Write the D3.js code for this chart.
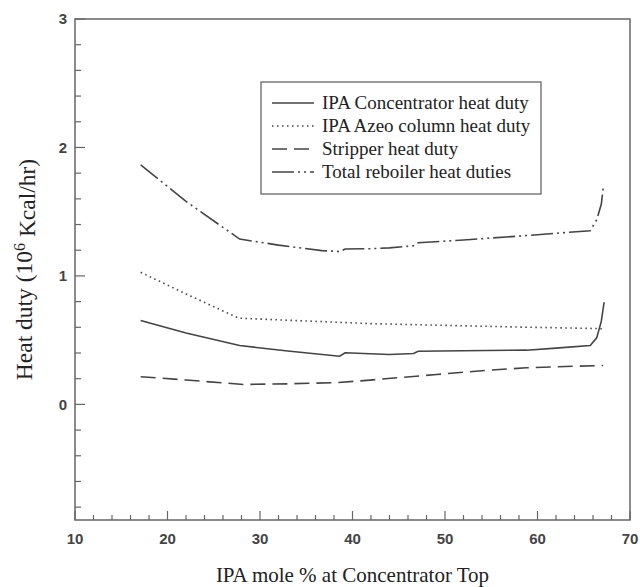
<!DOCTYPE html>
<html>
<head>
<meta charset="utf-8">
<script src="https://cdn.jsdelivr.net/npm/d3@7"></script>
<style>
  body { margin: 0; background: #fff; }
  svg { display: block; }
</style>
</head>
<body>
<svg id="chart"></svg>
<script>
// IPA mole % at concentrator top vs heat duty (10^6 Kcal/hr)
const concX = [17.1, 22.0, 27.8, 33.0, 38.6, 39.2, 41.9, 44.0, 46.6, 47.1, 52.0, 58.8, 62.0, 65.7, 66.4, 66.9, 67.2];
const concY = [0.653, 0.555, 0.458, 0.415, 0.375, 0.402, 0.394, 0.388, 0.396, 0.414, 0.418, 0.422, 0.438, 0.458, 0.518, 0.648, 0.795];

const azeoX = [17.1, 22.0, 27.7, 34.0, 41.9, 50.0, 58.0, 66.8, 67.1];
const azeoY = [1.028, 0.86, 0.671, 0.652, 0.629, 0.615, 0.602, 0.59, 0.585];

const stripX = [17.1, 22.0, 28.2, 33.0, 38.3, 41.9, 45.0, 49.1, 54.0, 58.8, 63.0, 67.1];
const stripY = [0.215, 0.19, 0.155, 0.16, 0.169, 0.189, 0.208, 0.233, 0.262, 0.285, 0.295, 0.303];

const totalX = [17.1, 22.0, 27.8, 32.0, 36.7, 38.7, 39.2, 41.9, 44.0, 46.6, 47.1, 52.0, 58.0, 65.7, 66.4, 66.9, 67.1];
const totalY = [1.865, 1.58, 1.287, 1.24, 1.197, 1.19, 1.21, 1.212, 1.218, 1.235, 1.258, 1.28, 1.31, 1.352, 1.437, 1.56, 1.684];

const seriesNames = ["IPA Concentrator heat duty", "IPA Azeo column heat duty", "Stripper heat duty", "Total reboiler heat duties"];
const xTicks = [10, 20, 30, 40, 50, 60, 70];
const yTicks = [0, 1, 2, 3];

const width = 640, height = 587;
const margin = { top: 19, right: 10, bottom: 67, left: 75 };
const innerW = width - margin.left - margin.right;
const innerH = height - margin.top - margin.bottom;

const ink = "#444";
const axisInk = "#666";

const svg = d3.select("#chart")
  .attr("width", width)
  .attr("height", height);

const g = svg.append("g")
  .attr("transform", `translate(${margin.left},${margin.top})`);

const x = d3.scaleLinear().domain([10, 70]).range([0, innerW]);
const y = d3.scaleLinear().domain([-0.9, 3]).range([innerH, 0]);

// frame
g.append("rect")
  .attr("width", innerW)
  .attr("height", innerH)
  .attr("fill", "none")
  .attr("stroke", axisInk)
  .attr("stroke-width", 1.5);

// minor ticks (inward)
const xMinor = d3.range(12, 70, 2).filter(v => v % 10 !== 0);
const yMinor = d3.range(-0.8, 3, 0.2).filter(v => Math.abs(v - Math.round(v)) > 0.01);

g.selectAll(".xminor")
  .data(xMinor)
  .enter()
  .append("line")
  .attr("x1", d => x(d)).attr("x2", d => x(d))
  .attr("y1", innerH).attr("y2", innerH - 5)
  .attr("stroke", axisInk).attr("stroke-width", 1.2);

g.selectAll(".xmajor")
  .data(xTicks)
  .enter()
  .append("line")
  .attr("x1", d => x(d)).attr("x2", d => x(d))
  .attr("y1", innerH).attr("y2", innerH - 9)
  .attr("stroke", axisInk).attr("stroke-width", 1.2);

g.selectAll(".yminor")
  .data(yMinor)
  .enter()
  .append("line")
  .attr("y1", d => y(d)).attr("y2", d => y(d))
  .attr("x1", 0).attr("x2", 6)
  .attr("stroke", axisInk).attr("stroke-width", 1.2);

g.selectAll(".ymajor")
  .data(yTicks)
  .enter()
  .append("line")
  .attr("y1", d => y(d)).attr("y2", d => y(d))
  .attr("x1", 0).attr("x2", 10)
  .attr("stroke", axisInk).attr("stroke-width", 1.2);

// tick labels
g.selectAll(".xlabel")
  .data(xTicks)
  .enter()
  .append("text")
  .attr("x", d => x(d))
  .attr("y", innerH + 24)
  .attr("text-anchor", "middle")
  .style("font-family", "'Liberation Sans', Arial, sans-serif")
  .style("font-size", "15px")
  .style("font-weight", "bold")
  .style("fill", "#444")
  .text(d => d);

g.selectAll(".ylabel")
  .data(yTicks)
  .enter()
  .append("text")
  .attr("x", -8)
  .attr("y", d => y(d))
  .attr("dy", "0.35em")
  .attr("text-anchor", "end")
  .style("font-family", "'Liberation Sans', Arial, sans-serif")
  .style("font-size", "15px")
  .style("font-weight", "bold")
  .style("fill", "#444")
  .text(d => d);

// axis titles
svg.append("text")
  .attr("x", margin.left + innerW / 2)
  .attr("y", 582)
  .attr("text-anchor", "middle")
  .style("font-family", "'Liberation Serif', 'Times New Roman', serif")
  .style("font-size", "21px")
  .style("fill", "#222")
  .text("IPA mole % at Concentrator Top");

const yTitle = svg.append("text")
  .attr("transform", `translate(32,${margin.top + innerH / 2}) rotate(-90)`)
  .attr("text-anchor", "middle")
  .style("font-family", "'Liberation Serif', 'Times New Roman', serif")
  .style("font-size", "23.5px")
  .style("fill", "#222");
yTitle.append("tspan").text("Heat duty (10");
yTitle.append("tspan").attr("dy", "-0.45em").style("font-size", "16px").text("6");
yTitle.append("tspan").attr("dy", "0.45em").text(" Kcal/hr)");

// series
const series = [
  { xs: concX, ys: concY, dash: null },
  { xs: azeoX, ys: azeoY, dash: "1.5,3.5" },
  { xs: stripX, ys: stripY, dash: "15,7" },
  { xs: totalX, ys: totalY, dash: "22,4,2,4,2,4" }
];

const line = d3.line()
  .x(d => x(d[0]))
  .y(d => y(d[1]));

series.forEach(s => {
  const pts = s.xs.map((v, i) => [v, s.ys[i]]);
  g.append("path")
    .datum(pts)
    .attr("d", line)
    .attr("fill", "none")
    .attr("stroke", ink)
    .attr("stroke-width", 1.6)
    .attr("stroke-dasharray", s.dash);
});

// legend
const legend = svg.append("g")
  .attr("transform", "translate(261,82)");

legend.append("rect")
  .attr("width", 280)
  .attr("height", 112)
  .attr("fill", "#fff")
  .attr("stroke", axisInk)
  .attr("stroke-width", 1.3);

seriesNames.forEach((name, i) => {
  const row = legend.append("g")
    .attr("transform", `translate(0,${21 + i * 23})`);
  row.append("line")
    .attr("x1", 11).attr("x2", 53)
    .attr("y1", 0).attr("y2", 0)
    .attr("stroke", ink)
    .attr("stroke-width", 1.6)
    .attr("stroke-dasharray", series[i].dash);
  row.append("text")
    .attr("x", 61)
    .attr("y", 0)
    .attr("dy", "0.33em")
    .style("font-family", "'Liberation Serif', 'Times New Roman', serif")
    .style("font-size", "19px")
    .style("fill", "#222")
    .text(name);
});
</script>
</body>
</html>
